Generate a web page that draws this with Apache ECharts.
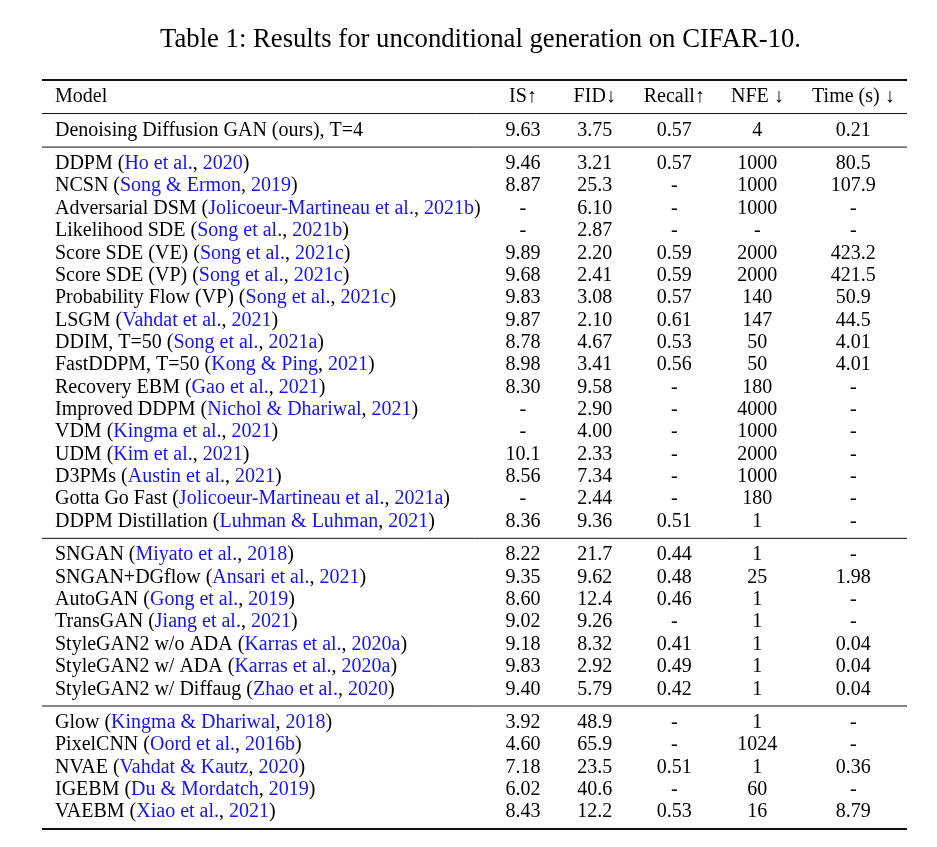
<!DOCTYPE html>
<html>
<head>
<meta charset="utf-8">
<script src="https://cdn.jsdelivr.net/npm/echarts@6/dist/echarts.min.js"></script>
<style>
html,body{margin:0;padding:0;background:#fff;}
#chart{width:937px;height:847px;}
</style>
</head>
<body>
<div id="chart"></div>
<script>
// ---------------- DATA ----------------
var titleText = 'Table 1: Results for unconditional generation on CIFAR-10.';
var headers = ['Model', 'IS\u2191', 'FID\u2193', 'Recall\u2191', 'NFE \u2193', 'Time (s) \u2193'];

var models = [
  'Denoising Diffusion GAN (ours), T=4',
  'DDPM', 'NCSN', 'Adversarial DSM', 'Likelihood SDE', 'Score SDE (VE)', 'Score SDE (VP)',
  'Probability Flow (VP)', 'LSGM', 'DDIM, T=50', 'FastDDPM, T=50', 'Recovery EBM',
  'Improved DDPM', 'VDM', 'UDM', 'D3PMs', 'Gotta Go Fast', 'DDPM Distillation',
  'SNGAN', 'SNGAN+DGflow', 'AutoGAN', 'TransGAN', 'StyleGAN2 w/o ADA', 'StyleGAN2 w/ ADA',
  'StyleGAN2 w/ Diffaug',
  'Glow', 'PixelCNN', 'NVAE', 'IGEBM', 'VAEBM'
];
var citeAuthors = [
  '',
  'Ho et al.', 'Song & Ermon', 'Jolicoeur-Martineau et al.', 'Song et al.', 'Song et al.', 'Song et al.',
  'Song et al.', 'Vahdat et al.', 'Song et al.', 'Kong & Ping', 'Gao et al.',
  'Nichol & Dhariwal', 'Kingma et al.', 'Kim et al.', 'Austin et al.', 'Jolicoeur-Martineau et al.', 'Luhman & Luhman',
  'Miyato et al.', 'Ansari et al.', 'Gong et al.', 'Jiang et al.', 'Karras et al.', 'Karras et al.',
  'Zhao et al.',
  'Kingma & Dhariwal', 'Oord et al.', 'Vahdat & Kautz', 'Du & Mordatch', 'Xiao et al.'
];
var citeYears = [
  '',
  '2020', '2019', '2021b', '2021b', '2021c', '2021c',
  '2021c', '2021', '2021a', '2021', '2021',
  '2021', '2021', '2021', '2021', '2021a', '2021',
  '2018', '2021', '2019', '2021', '2020a', '2020a',
  '2020',
  '2018', '2016b', '2020', '2019', '2021'
];
var isVals = ['9.63',
  '9.46','8.87','-','-','9.89','9.68','9.83','9.87','8.78','8.98','8.30','-','-','10.1','8.56','-','8.36',
  '8.22','9.35','8.60','9.02','9.18','9.83','9.40',
  '3.92','4.60','7.18','6.02','8.43'];
var fidVals = ['3.75',
  '3.21','25.3','6.10','2.87','2.20','2.41','3.08','2.10','4.67','3.41','9.58','2.90','4.00','2.33','7.34','2.44','9.36',
  '21.7','9.62','12.4','9.26','8.32','2.92','5.79',
  '48.9','65.9','23.5','40.6','12.2'];
var recallVals = ['0.57',
  '0.57','-','-','-','0.59','0.59','0.57','0.61','0.53','0.56','-','-','-','-','-','-','0.51',
  '0.44','0.48','0.46','-','0.41','0.49','0.42',
  '-','-','0.51','-','0.53'];
var nfeVals = ['4',
  '1000','1000','1000','-','2000','2000','140','147','50','50','180','4000','1000','2000','1000','180','1',
  '1','25','1','1','1','1','1',
  '1','1024','1','60','16'];
var timeVals = ['0.21',
  '80.5','107.9','-','-','423.2','421.5','50.9','44.5','4.01','4.01','-','-','-','-','-','-','-',
  '-','1.98','-','-','0.04','0.04','0.04',
  '-','-','0.36','-','8.79'];
// section (group) each model row belongs to
var groups = [1,
  2,2,2,2,2,2,2,2,2,2,2,2,2,2,2,2,2,
  3,3,3,3,3,3,3,
  4,4,4,4,4];

// ---------------- LAYOUT ----------------
var colX = [1.5, 55.6, 63.9, 73.1, 82.7, 93.8];   // percent of table width
var colAlign = ['left','center','center','center','center','center'];
var FONT = '"Liberation Serif","Times New Roman","DejaVu Serif",serif';
var FS = 20;
var BLACK = '#000000';
var BLUE = '#1414f5';

// row positions (row units): header row 0, then each model row, plus half-row per section break
function rowY(i) { return (i + 1) + 0.5 * groups[i]; }
var headerY = 0;

var cells = [];
headers.forEach(function (h, c) {
  cells.push({x: colX[c], y: headerY, text: h, align: colAlign[c], rich: false});
});
var valueCols = [isVals, fidVals, recallVals, nfeVals, timeVals];
models.forEach(function (m, i) {
  var y = rowY(i);
  var txt;
  if (citeAuthors[i]) {
    txt = '{k|' + m + ' (}{b|' + citeAuthors[i] + '}{k|, }{b|' + citeYears[i] + '}{k|)}';
  } else {
    txt = '{k|' + m + '}';
  }
  cells.push({x: colX[0], y: y, text: txt, align: 'left', rich: true});
  valueCols.forEach(function (arr, c) {
    cells.push({x: colX[c + 1], y: y, text: arr[i], align: 'center', rich: false});
  });
});

// rules: top, below header, after each section, bottom
var rules = [{y: headerY - 0.75, w: 1.8}, {y: headerY + 0.75, w: 1}];
for (var i = 0; i < models.length; i++) {
  var last = (i === models.length - 1) || groups[i + 1] !== groups[i];
  if (last) rules.push({y: rowY(i) + 0.75, w: (i === models.length - 1) ? 1.8 : 1});
}

var chart = echarts.init(document.getElementById('chart'), null, {renderer: 'canvas'});
chart.setOption({
  backgroundColor: '#ffffff',
  animation: false,
  title: {
    text: titleText,
    left: 155,
    top: 21,
    textStyle: {fontFamily: FONT, fontWeight: 'normal', fontSize: 26.7, color: BLACK}
  },
  grid: {left: 42, right: 30, top: 80, bottom: 18},
  xAxis: {type: 'value', min: 0, max: 100, show: false},
  yAxis: {type: 'value', min: -0.75, max: rowY(models.length - 1) + 0.75, inverse: true, show: false},
  series: [
    {
      type: 'custom',
      coordinateSystem: 'cartesian2d',
      data: rules.map(function (r) { return [r.y, r.w]; }),
      renderItem: function (params, api) {
        var y = api.value(0);
        var p1 = api.coord([0, y]);
        var p2 = api.coord([100, y]);
        return {
          type: 'line',
          shape: {x1: p1[0], y1: p1[1], x2: p2[0], y2: p2[1]},
          style: {stroke: '#111', lineWidth: api.value(1)}
        };
      }
    },
    {
      type: 'custom',
      coordinateSystem: 'cartesian2d',
      data: cells.map(function (c) { return [c.x, c.y]; }),
      renderItem: function (params, api) {
        var c = cells[params.dataIndex];
        var p = api.coord([api.value(0), api.value(1)]);
        var style = {
          x: p[0], y: p[1],
          text: c.text,
          align: c.align,
          verticalAlign: 'middle',
          fontFamily: FONT,
          fontSize: FS,
          fill: BLACK
        };
        if (c.rich) {
          style.rich = {
            k: {fill: BLACK, fontFamily: FONT, fontSize: FS},
            b: {fill: BLUE, fontFamily: FONT, fontSize: FS}
          };
        }
        return {type: 'text', style: style};
      }
    }
  ]
});
</script>
</body>
</html>
